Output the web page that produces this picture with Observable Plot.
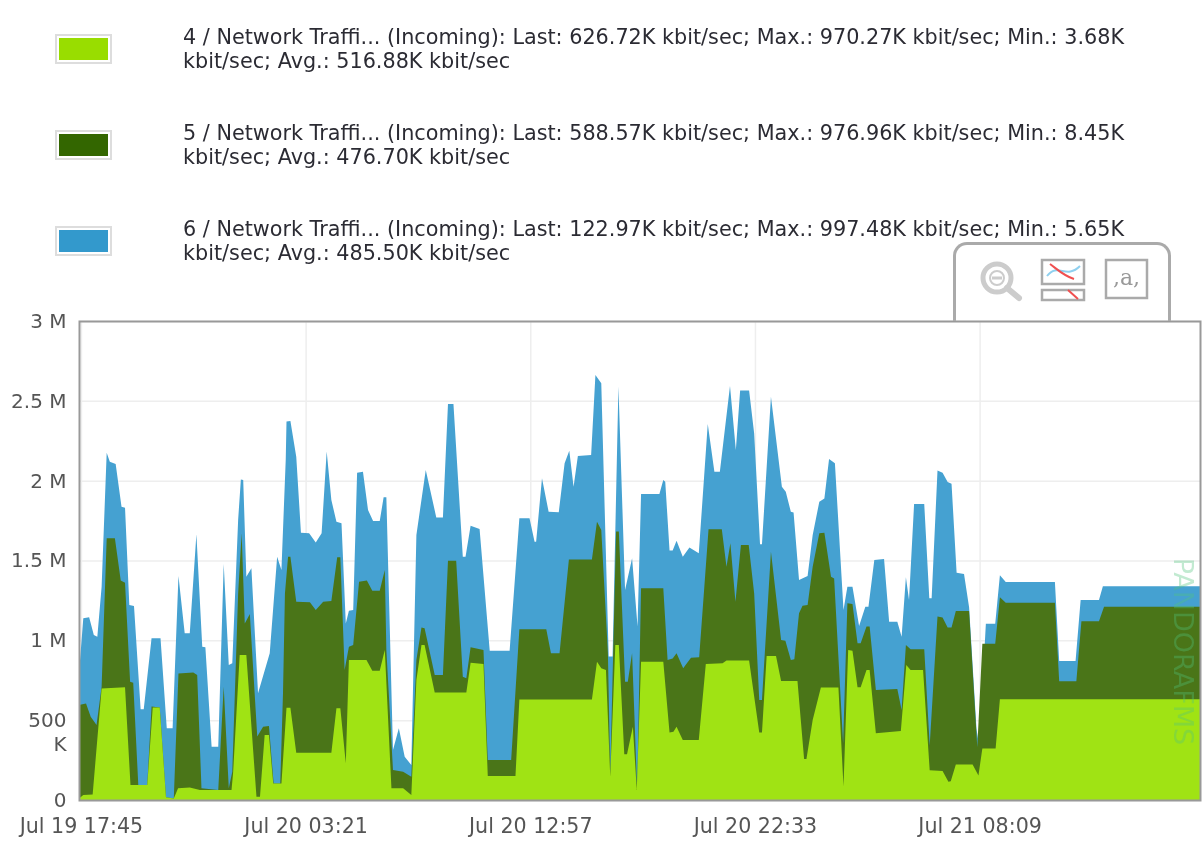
<!DOCTYPE html>
<html>
<head>
<meta charset="utf-8">
<script src="https://cdn.jsdelivr.net/npm/d3@7"></script>
<script src="https://cdn.jsdelivr.net/npm/@observablehq/plot@0.6"></script>
<style>
html,body{margin:0;padding:0;background:#fff;width:1203px;height:843px;overflow:hidden;font-family:"DejaVu Sans",sans-serif}
.row{position:absolute;left:183px;width:980px;font-size:20.75px;line-height:24px;color:#2b2b33;filter:blur(.45px)}
.sw{position:absolute;left:56px;width:49px;height:22px;border:3px solid #fff;outline:2px solid #ddd;outline-offset:-1px}
#chart{position:absolute;left:0;top:300px;filter:blur(.5px)}
#tab{position:absolute;left:953px;top:242px;width:212px;height:76px;border:3px solid #aaa;border-bottom:none;border-radius:14px 14px 0 0;background:#fff}
#ic{position:absolute;left:0;top:240px;filter:blur(.5px)}
</style>
</head>
<body>
<div id="tab"></div>
<div id="chart"></div>
<script>
const legendColors = ["#99dd00", "#336600", "#3399cc"];
const legendLines = [
  "4 / Network Traffi... (Incoming): Last: 626.72K kbit/sec; Max.: 970.27K kbit/sec; Min.: 3.68K kbit/sec; Avg.: 516.88K kbit/sec",
  "5 / Network Traffi... (Incoming): Last: 588.57K kbit/sec; Max.: 976.96K kbit/sec; Min.: 8.45K kbit/sec; Avg.: 476.70K kbit/sec",
  "6 / Network Traffi... (Incoming): Last: 122.97K kbit/sec; Max.: 997.48K kbit/sec; Min.: 5.65K kbit/sec; Avg.: 485.50K kbit/sec"
];
const yTicks = [0, 500, 1000, 1500, 2000, 2500, 3000];
const yLabels = ["0", "500", "1 M", "1.5 M", "2 M", "2.5 M", "3 M"];
const xTicks = [5, 581, 1157, 1733, 2309];
const xLabels = ["Jul 19 17:45", "Jul 20 03:21", "Jul 20 12:57", "Jul 20 22:33", "Jul 21 08:09"];

// Stack tops in thousands of kbit/sec; time is minutes after Jul 19 17:40.
const blueT = [0,11,26,38,47,58,71,79,94,109,118,129,141,158,166,186,209,225,240,255,271,284,301,316,324,340,357,371,384,393,408,415,421,429,442,459,489,508,519,530,532,542,557,569,590,607,622,635,647,660,673,684,692,703,713,728,741,754,771,781,788,805,820,835,852,865,889,916,933,946,960,984,991,1004,1027,1053,1104,1129,1155,1168,1172,1187,1204,1230,1245,1257,1268,1279,1313,1324,1339,1358,1368,1383,1400,1418,1432,1441,1484,1488,1498,1503,1514,1522,1532,1548,1565,1589,1612,1629,1643,1669,1684,1695,1718,1731,1746,1751,1774,1802,1812,1825,1832,1846,1868,1881,1898,1911,1923,1938,1960,1970,1983,2000,2016,2024,2039,2064,2077,2098,2109,2120,2128,2141,2167,2180,2186,2201,2214,2227,2237,2250,2269,2282,2301,2308,2325,2349,2361,2376,2502,2513,2555,2568,2615,2625,2874];
const blueV = [793,1138,1144,1033,1023,1336,2175,2119,2104,1837,1831,1221,1215,568,568,1013,1013,449,449,1403,1044,1044,1664,960,956,334,334,1478,846,856,1754,2008,2004,1399,1451,668,919,1524,1441,2129,2370,2374,2150,1674,1670,1612,1670,2182,1879,1743,1733,1106,1186,1190,2050,2056,1816,1747,1747,1896,1896,313,449,271,219,1660,2067,1770,1770,2480,2480,1524,1524,1718,1697,935,935,1764,1764,1618,1618,2015,1806,1802,2109,2188,1962,2155,2161,2662,2610,898,898,2589,1315,1514,1086,1917,1917,1917,2004,1994,1562,1562,1624,1524,1582,1545,2355,2056,2056,2593,2192,2564,2564,2296,1601,1601,2526,1962,1931,1806,1800,1378,1403,1660,1868,1889,2136,2109,1190,1336,1336,1090,1211,1211,1503,1509,1117,1117,1023,1395,1253,1854,1854,1264,1264,2063,2049,1992,1981,1423,1416,1207,444,337,1104,1104,1407,1366,1366,870,870,1252,1252,1339,1339];

const darkT = [0,18,30,45,58,71,92,107,118,131,139,152,175,186,207,223,243,255,293,303,314,357,371,384,393,408,417,425,438,457,472,487,499,516,523,528,536,542,557,592,607,626,647,662,670,681,692,703,718,738,752,771,784,788,805,831,852,865,878,886,912,933,946,967,984,993,1004,1037,1048,1108,1129,1198,1210,1232,1256,1315,1328,1339,1356,1362,1377,1384,1400,1407,1418,1431,1441,1498,1509,1522,1532,1549,1569,1590,1614,1648,1660,1670,1683,1697,1717,1731,1744,1751,1774,1800,1811,1825,1834,1846,1855,1868,1881,1898,1911,1928,1936,1959,1970,1983,1996,2004,2019,2027,2043,2098,2109,2120,2132,2167,2181,2201,2214,2227,2237,2248,2282,2303,2316,2349,2361,2376,2502,2513,2557,2570,2615,2628,2874];
const darkV = [595,605,522,470,710,1639,1639,1374,1361,741,735,94,94,585,580,17,10,793,798,783,73,63,710,73,177,1294,1670,1106,1165,397,459,463,104,104,668,1294,1524,1524,1242,1238,1190,1242,1246,1520,1520,814,960,971,1367,1374,1311,1311,1441,939,188,177,146,877,1081,1075,783,783,1499,1499,772,762,956,939,251,251,1069,1069,919,919,1507,1507,1743,1691,919,167,1681,1681,741,741,919,63,1326,1326,877,887,919,825,891,894,1695,1695,1461,1608,1242,1597,1597,1294,626,626,1555,1002,998,877,881,1169,1217,1221,1461,1670,1674,1399,1388,355,1232,1228,981,981,1086,1086,689,695,564,971,944,944,341,1150,1143,1081,1081,1184,1184,330,979,979,1270,1236,1236,744,744,1120,1120,1211,1211];

const greenT = [0,11,35,58,118,132,175,189,207,223,243,254,284,310,391,395,412,429,455,464,476,487,498,519,532,542,557,647,660,670,684,692,737,752,771,784,801,831,852,865,878,886,912,993,1004,1037,1048,1119,1129,1315,1328,1339,1351,1362,1375,1384,1398,1405,1420,1430,1441,1498,1514,1524,1532,1548,1589,1607,1650,1660,1718,1744,1751,1763,1787,1800,1842,1859,1865,1881,1902,1947,1960,1972,1983,1996,2004,2019,2027,2043,2107,2121,2132,2164,2181,2214,2229,2235,2248,2291,2306,2316,2350,2361,2874];
const greenV = [10,31,35,699,706,94,94,580,580,17,10,73,79,63,63,167,908,908,21,21,407,407,104,104,578,578,296,296,574,574,230,877,877,810,810,939,73,73,31,752,971,971,674,674,860,852,150,150,630,630,866,825,814,146,971,971,286,286,459,63,866,866,422,428,459,376,376,852,856,873,873,422,422,902,902,745,745,257,257,501,704,704,84,939,935,706,706,814,814,418,432,846,814,814,186,182,114,118,223,223,154,323,323,631,631];

const seriesOf = (t, v) => t.map((d, i) => ({t: d, v: v[i]}));

// legend
[37 - 13, 133 - 13, 229 - 13].forEach((top, i) => {
  const sw = document.createElement("div");
  sw.className = "sw"; sw.style.top = (top + 11) + "px"; sw.style.background = legendColors[i];
  document.body.appendChild(sw);
  const row = document.createElement("div");
  row.className = "row"; row.style.top = (top + 1) + "px"; row.textContent = legendLines[i];
  document.body.appendChild(row);
});

const plot = Plot.plot({
  width: 1203, height: 540,
  marginLeft: 79, marginRight: 3, marginTop: 21, marginBottom: 40,
  style: {fontFamily: "DejaVu Sans", fontSize: "20px", color: "#555", background: "transparent"},
  x: {type: "linear", domain: [0, 2874]},
  y: {domain: [0, 3000]},
  marks: [
    Plot.ruleX(xTicks, {stroke: "#eee", strokeWidth: 1.5}),
    Plot.ruleY(yTicks, {stroke: "#eee", strokeWidth: 1.5}),
    Plot.areaY(seriesOf(blueT, blueV), {x: "t", y1: 0, y2: "v", fill: "#45a1d1"}),
    Plot.areaY(seriesOf(darkT, darkV), {x: "t", y1: 0, y2: "v", fill: "#4a7518"}),
    Plot.areaY(seriesOf(greenT, greenV), {x: "t", y1: 0, y2: "v", fill: "#a0e314"}),
    Plot.axisY({ticks: yTicks, tickFormat: d => yLabels[yTicks.indexOf(d)], tickSize: 0, tickPadding: 13, label: null, fill: "#555", fontSize: 20}),
    Plot.text(["K"], {x: () => 0, y: () => 500, text: d => d, dx: -13, dy: 24, textAnchor: "end", fill: "#555", fontSize: 20}),
    Plot.axisX({ticks: xTicks, tickFormat: d => xLabels[xTicks.indexOf(d)], tickSize: 0, tickPadding: 18, label: null, fill: "#555", fontSize: 20.6}),
    Plot.frame({stroke: "#999", strokeWidth: 2}),
    Plot.text(["PANDORAFMS"], {x: () => 2874, y: () => 1520, text: d => d, rotate: 90, textAnchor: "start", dx: -18, fill: "#4fc27a", fillOpacity: 0.35, fontSize: 27, fontFamily: "DejaVu Sans"})
  ]
});
document.getElementById("chart").appendChild(plot);

// toolbar icons
const ns = "http://www.w3.org/2000/svg";
document.body.insertAdjacentHTML("beforeend", `
<svg id="ic" width="1203" height="80" xmlns="${ns}">
  <circle cx="997" cy="38" r="14" fill="none" stroke="#ccc" stroke-width="5"/>
  <circle cx="997" cy="38" r="7" fill="none" stroke="#ccc" stroke-width="2"/>
  <rect x="992" y="36.5" width="10" height="3" fill="#ccc"/>
  <line x1="1007" y1="48" x2="1019" y2="58" stroke="#ccc" stroke-width="6" stroke-linecap="round"/>
  <rect x="1042" y="20" width="42" height="24" fill="#fff" stroke="#aaa" stroke-width="2.5"/>
  <rect x="1042" y="50" width="42" height="10" fill="#fff" stroke="#aaa" stroke-width="2.5"/>
  <path d="M1047 36 C1058 22 1066 40 1080 26" fill="none" stroke="#8fd0ef" stroke-width="2"/>
  <path d="M1050 24 C1058 30 1064 36 1074 39" fill="none" stroke="#f05050" stroke-width="2"/>
  <path d="M1068 50 L1078 59" fill="none" stroke="#f05050" stroke-width="2"/>
  <rect x="1106" y="20" width="41" height="38" fill="#fff" stroke="#aaa" stroke-width="2.5"/>
  <text x="1126.5" y="45" text-anchor="middle" font-family="DejaVu Serif" font-size="22" fill="#999">,a,</text>
</svg>`);
</script>
</body>
</html>
